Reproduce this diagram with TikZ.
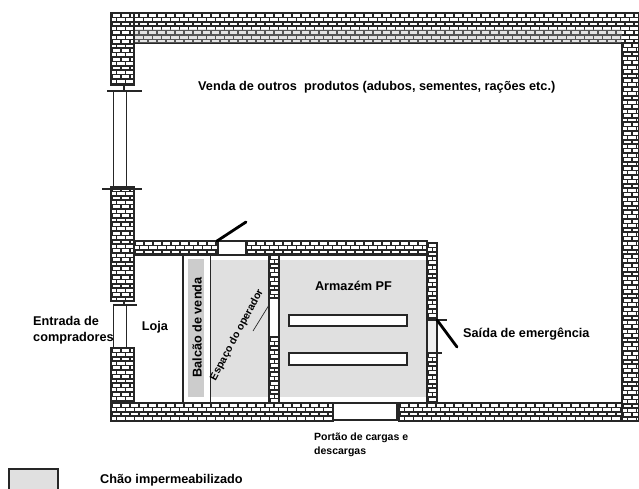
\documentclass[tikz,border=0pt]{standalone}
\usepackage{fontspec}
\setmainfont{Liberation Sans}
\tikzset{
	label/.style={font=\bfseries\fontsize{12.7}{16}\selectfont, inner sep=0pt, align=left},
	small/.style={font=\bfseries\fontsize{10.5}{14}\selectfont, inner sep=0pt, align=left},
	line/.style={draw=black!85, line width=1.1pt},
	floor/.style={fill=black!12},
	leaf/.style={line width=2.8pt, black, line cap=round}
}
% brick wall: left, top, right, bottom (pixels)
\newcommand{\brickwall}[4]{
	\begin{scope}
		\clip (#1,#2) rectangle (#3,#4);
		\fill[white] (#1,#2) rectangle (#3,#4);
		\pgfmathtruncatemacro{\nrows}{(#4-#2)/4.4}
		\foreach \r in {0,...,\nrows}{
			\pgfmathsetmacro{\rowy}{#2+\r*4.4}
			\pgfmathsetmacro{\rowphase}{mod(\r,2)*4.5}
			\draw[black!85, line width=1.7pt] (#1,\rowy) -- (#3,\rowy);
			\draw[black!85, line width=4.4pt, dash pattern=on 1.6pt off 7.4pt, dash phase=\rowphase pt] (#1,\rowy+2.2) -- (#3,\rowy+2.2);
		}
	\end{scope}
	\draw[line] (#1,#2) rectangle (#3,#4);
}
\begin{document}
\begin{tikzpicture}[x=1pt,y=-1pt]
		\clip (0,0) rectangle (639,488);
		\fill[white] (0,0) rectangle (639,488);
		
		% floors
		\fill[floor] (211,260) rectangle (269,397);
		\fill[floor] (279,260) rectangle (426,397);
		\fill[black!20] (188,259) rectangle (204,397);
		
		% outer walls
		\brickwall{111}{13}{639}{43}
		\fill[black!30, opacity=0.35] (134,29) rectangle (622,43);
		\brickwall{111}{13}{134}{85}
		\brickwall{111}{187}{134}{301}
		\brickwall{111}{348}{134}{421}
		\brickwall{111}{403}{333}{421}
		\brickwall{399}{403}{622}{421}
		\brickwall{622}{43}{639}{421}
		
		% inner walls
		\brickwall{134}{241}{218}{255}
		\brickwall{246}{241}{427}{255}
		\brickwall{427}{243}{437}{320}
		\brickwall{427}{353}{437}{403}
		\brickwall{269}{255}{279}{298}
		\brickwall{269}{337}{279}{403}
		
		% windows and doors
		\draw[line] (113.5,91) -- (113.5,187);
		\draw[line] (126.5,91) -- (126.5,187);
		\draw[line] (107,91) -- (142,91);
		\draw[line] (124,85) -- (124,91);
		\draw[line] (102,189) -- (142,189);
		\draw[line] (113.5,305) -- (113.5,348);
		\draw[line] (126.5,305) -- (126.5,348);
		\draw[line] (113,305) -- (137,305);
		\draw[line] (124,301) -- (124,305);
		\draw[line, fill=white] (218,241) rectangle (246,255);
		\draw[line, fill=white] (269,298) rectangle (279,337);
		\draw[line, fill=white] (333,403) rectangle (397,420);
		\draw[line, fill=black!6] (427,320) rectangle (437,353);
		\draw[line] (437,320) -- (447,320);
		\draw[line] (437,353) -- (442,353);
		\draw[leaf] (217,241) -- (246,222);
		\draw[leaf] (437,320) -- (457,347);
		\draw[black!85, line width=0.7pt] (269,305) -- (253,331);
		
		% counter
		\draw[line] (183,255) -- (183,403);
		\draw[line] (210.5,255) -- (210.5,403);
		
		% shelves
		\draw[line, fill=white] (289,315) rectangle (407,326);
		\draw[line, fill=white] (289,353) rectangle (407,365);
		
		% legend
		\draw[line, floor] (9,469) rectangle (58,495);
		
		\node[label, anchor=west] (venda) at (198,87) {Venda de outros\ \ produtos (adubos, sementes, rações etc.)};
		\node[label] (armazem) at (353.5,286) {Armazém PF};
		\node[label] (loja) at (155,327) {Loja};
		\node[label, anchor=west] (entrada) at (33,330.5) {Entrada de\\compradores};
		\node[label, anchor=west] (saida) at (463,334) {Saída de emergência};
		\node[label, rotate=90] (balcao) at (197,327.5) {Balcão de venda};
		\node[small, rotate=62] (espaco) at (237,335) {Espaço do operador};
		\node[small, anchor=west] (portao) at (314,445) {Portão de cargas e\\descargas};
		\node[label, anchor=west] (chao) at (100,480) {Chão impermeabilizado};
		
		\end{tikzpicture}
\end{document}
